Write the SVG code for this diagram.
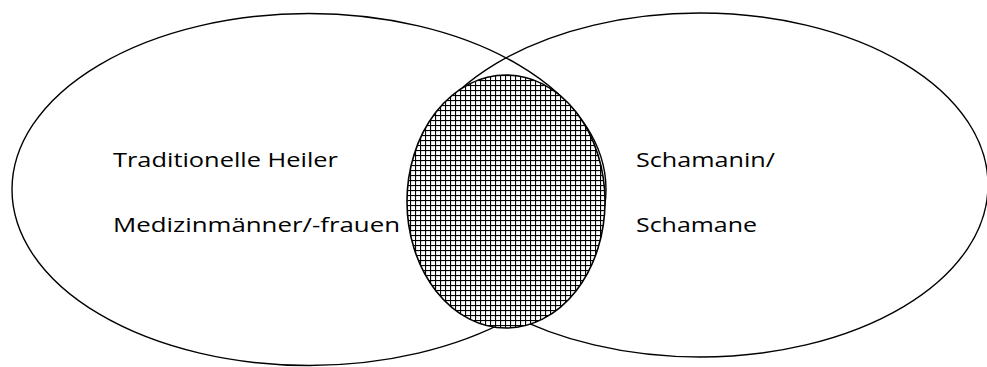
<svg xmlns="http://www.w3.org/2000/svg" width="987" height="367" viewBox="0 0 987 367">
<style>
.set{fill:none;stroke:#000;stroke-width:1.4}
.lbl{font-family:"Open Sans","Liberation Sans",sans-serif;font-size:19.5px;fill:#000}
</style>
<defs>
<pattern id="grid" patternUnits="userSpaceOnUse" width="5" height="5" x="0" y="0">
<rect width="5" height="5" fill="#fff"/>
<rect x="0" y="0" width="1.1" height="5" fill="#000"/>
<rect x="0" y="0" width="5" height="1.1" fill="#000"/>
</pattern>
</defs>
<rect width="987" height="367" fill="#fff"/>
<g id="left-set">
<ellipse class="set" cx="309" cy="189.5" rx="297" ry="176"/>
</g>
<g id="right-set">
<ellipse class="set" cx="700" cy="185" rx="288" ry="172"/>
</g>
<g id="overlap">
<ellipse cx="506" cy="201.5" rx="99" ry="126.5" fill="url(#grid)" stroke="#000" stroke-width="1.6"/>
</g>
<g id="labels">
<text class="lbl" x="113" y="167" textLength="225" lengthAdjust="spacingAndGlyphs">Traditionelle Heiler</text>
<text class="lbl" x="113" y="232" textLength="287" lengthAdjust="spacingAndGlyphs">Medizinmänner/-frauen</text>
<text class="lbl" x="636" y="167" textLength="139" lengthAdjust="spacingAndGlyphs">Schamanin/</text>
<text class="lbl" x="636" y="232" textLength="121" lengthAdjust="spacingAndGlyphs">Schamane</text>
</g>
</svg>
